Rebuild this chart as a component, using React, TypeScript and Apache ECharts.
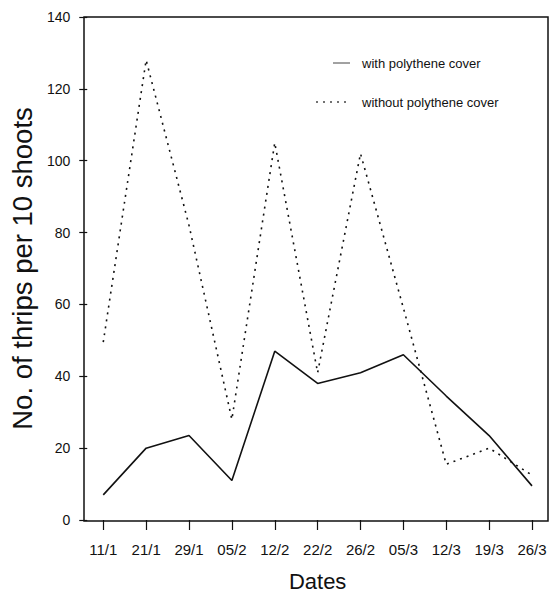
import React, { useEffect, useRef } from "react";
import * as echarts from "echarts";

const categories = ["11/1", "21/1", "29/1", "05/2", "12/2", "22/2", "26/2", "05/3", "12/3", "19/3", "26/3"];
const withCover = [7, 20, 23.5, 11, 47, 38, 41, 46, 34.5, 23.5, 9.5];
const withoutCover = [49.5, 128, 82, 28, 105, 41, 102, 59, 15.5, 20, 12.5];
const seriesNames = ["with polythene cover", "without polythene cover"];
const yTitle = "No. of thrips per 10 shoots";
const xTitle = "Dates";

const FONT = "'Liberation Sans', Arial, Helvetica, sans-serif";
const INK = "#111";

export default function App() {
  const ref = useRef<HTMLDivElement>(null);
  useEffect(() => {
    if (!ref.current) return;
    const chart = echarts.init(ref.current, null, { renderer: "svg" });
    chart.setOption({
      animation: false,
      backgroundColor: "#fff",
      grid: { left: 100, right: 18, top: 17, bottom: 76 },
      xAxis: {
        type: "category",
        data: categories,
        boundaryGap: false,
        axisLine: { show: false },
        axisTick: { show: true, length: 10, lineStyle: { color: INK, width: 1.2 } },
        axisLabel: { color: INK, fontSize: 15, fontFamily: FONT, margin: 22 },
        name: xTitle,
        nameLocation: "middle",
        nameGap: 50,
        nameTextStyle: { color: INK, fontSize: 22, fontFamily: FONT },
        splitLine: { show: false },
      },
      yAxis: {
        type: "value",
        min: 0,
        max: 140,
        interval: 20,
        offset: 16,
        axisLine: { show: false },
        axisTick: { show: true, length: 8, lineStyle: { color: INK, width: 1.2 } },
        axisLabel: { color: INK, fontSize: 14, fontFamily: FONT, margin: 17 },
        splitLine: { show: false },
        name: yTitle,
        nameLocation: "middle",
        nameGap: 49,
        nameRotate: 90,
        nameTextStyle: { color: INK, fontSize: 27.5, fontFamily: FONT },
      },
      series: [
        {
          name: seriesNames[0],
          type: "line",
          data: withCover,
          symbol: "none",
          lineStyle: { color: INK, width: 1.6 },
        },
        {
          name: seriesNames[1],
          type: "line",
          data: withoutCover,
          symbol: "none",
          lineStyle: { color: INK, width: 1.6, type: [2, 5] },
        },
      ],
      graphic: [
        {
          type: "rect",
          shape: { x: 84, y: 17, width: 464, height: 504 },
          style: { fill: "none", stroke: INK, lineWidth: 1.5 },
          silent: true,
        },
        {
          type: "line",
          shape: { x1: 333, y1: 63, x2: 350, y2: 63 },
          style: { stroke: "#444", lineWidth: 1 },
        },
        {
          type: "text",
          x: 362,
          y: 63,
          style: { text: seriesNames[0], fill: INK, font: `13px ${FONT}`, verticalAlign: "middle" },
        },
        {
          type: "line",
          shape: { x1: 316, y1: 102, x2: 350, y2: 102 },
          style: { stroke: "#444", lineWidth: 1.4, lineDash: [2, 5] },
        },
        {
          type: "text",
          x: 362,
          y: 102,
          style: { text: seriesNames[1], fill: INK, font: `13px ${FONT}`, verticalAlign: "middle" },
        },
      ],
    });
    return () => chart.dispose();
  }, []);
  return <div ref={ref} style={{ position: "fixed", left: 0, top: 0, width: 550, height: 597 }} />;
}
